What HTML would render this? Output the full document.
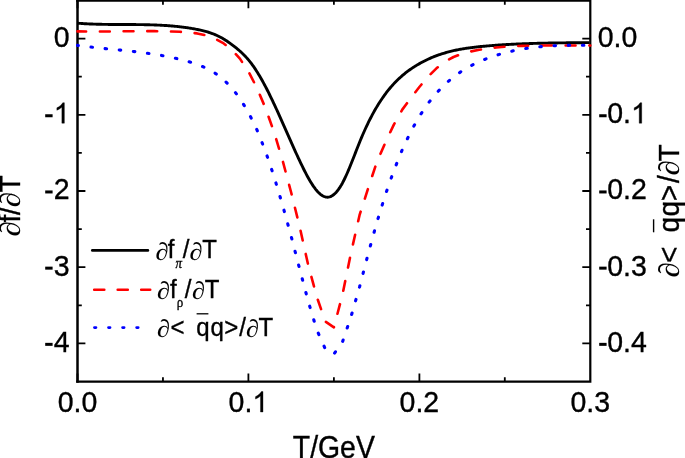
<!DOCTYPE html>
<html><head><meta charset="utf-8"><style>
html,body{margin:0;padding:0;background:#fff;width:685px;height:458px;overflow:hidden}
svg{display:block;filter:blur(0.4px)}
text{font-family:"Liberation Sans",sans-serif;fill:#000;stroke:#000;stroke-width:0.35}
.t28{font-size:28px}
.t24{font-size:24px}
.t285{font-size:28.5px}
.d{font-family:"Liberation Serif",serif;stroke-width:0.05}
.g{font-family:"Liberation Serif",serif;font-style:italic;font-size:13px;stroke-width:0.3}
</style></head><body>
<svg width="685" height="458" viewBox="0 0 685 458">
<rect x="0" y="0" width="685" height="458" fill="#fff"/>


<g stroke="#000" fill="none">
<path stroke-width="2.5" d="M77.5,-1V382.8"/>
<path stroke-width="2.2" d="M590.3,-1V382.8M76.2,381.7H591.4M76.2,0.6H591.4"/>
<path stroke-width="1.8" d="M77.5,381.5V373.6M248.4,381.5V373.6M419.4,381.5V373.6 M162.95,381.5V377.3M333.9,381.5V377.3M504.8,381.5V377.3
M77.5,0.5V8.2M248.4,0.5V8.2M419.4,0.5V8.2 M162.95,0.5V4.7M333.9,0.5V4.7M504.8,0.5V4.7
M77.5,38.6H85.4M77.5,114.8H85.4M77.5,191H85.4M77.5,267.2H85.4M77.5,343.4H85.4
M77.5,76.7H81.8M77.5,152.9H81.8M77.5,229.1H81.8M77.5,305.3H81.8
M590.3,38.6H582.3M590.3,114.8H582.3M590.3,191H582.3M590.3,267.2H582.3M590.3,343.4H582.3
M590.3,76.7H586M590.3,152.9H586M590.3,229.1H586M590.3,305.3H586"/>
</g>
<g fill="none" stroke-linejoin="round">
<path d="M77.50,23.19 L78.50,23.27 L79.50,23.35 L80.50,23.42 L81.50,23.49 L82.50,23.55 L83.50,23.62 L84.50,23.68 L85.50,23.73 L86.50,23.79 L87.50,23.84 L88.50,23.89 L89.50,23.93 L90.50,23.98 L91.50,24.02 L92.50,24.06 L93.50,24.09 L94.50,24.13 L95.50,24.16 L96.50,24.19 L97.50,24.22 L98.50,24.25 L99.50,24.27 L100.50,24.30 L101.50,24.32 L102.50,24.34 L103.50,24.36 L104.50,24.37 L105.50,24.39 L106.50,24.40 L107.50,24.42 L108.50,24.43 L109.50,24.44 L110.50,24.45 L111.50,24.46 L112.50,24.47 L113.50,24.48 L114.50,24.48 L115.50,24.49 L116.50,24.49 L117.50,24.50 L118.50,24.50 L119.50,24.51 L120.50,24.51 L121.50,24.51 L122.50,24.52 L123.50,24.52 L124.50,24.52 L125.50,24.52 L126.50,24.53 L127.50,24.53 L128.50,24.54 L129.50,24.54 L130.50,24.54 L131.50,24.55 L132.50,24.55 L133.50,24.56 L134.50,24.57 L135.50,24.57 L136.50,24.58 L137.50,24.59 L138.50,24.60 L139.50,24.61 L140.50,24.63 L141.50,24.64 L142.50,24.65 L143.50,24.67 L144.50,24.69 L145.50,24.71 L146.50,24.73 L147.50,24.75 L148.50,24.77 L149.50,24.80 L150.50,24.83 L151.50,24.86 L152.50,24.89 L153.50,24.92 L154.50,24.96 L155.50,24.99 L156.50,25.03 L157.50,25.08 L158.50,25.12 L159.50,25.17 L160.50,25.22 L161.50,25.27 L162.50,25.33 L163.50,25.38 L164.50,25.44 L165.50,25.51 L166.50,25.57 L167.50,25.64 L168.50,25.72 L169.50,25.79 L170.50,25.87 L171.50,25.95 L172.50,26.04 L173.50,26.13 L174.50,26.22 L175.50,26.32 L176.50,26.42 L177.50,26.52 L178.50,26.63 L179.50,26.74 L180.50,26.86 L181.50,26.98 L182.50,27.10 L183.50,27.23 L184.50,27.36 L185.50,27.50 L186.50,27.64 L187.50,27.79 L188.50,27.94 L189.50,28.09 L190.50,28.25 L191.50,28.41 L192.50,28.58 L193.50,28.76 L194.50,28.94 L195.50,29.12 L196.50,29.31 L197.50,29.50 L198.50,29.71 L199.50,29.92 L200.50,30.13 L201.50,30.36 L202.50,30.60 L203.50,30.84 L204.50,31.10 L205.50,31.37 L206.50,31.65 L207.50,31.94 L208.50,32.25 L209.50,32.57 L210.50,32.91 L211.50,33.26 L212.50,33.63 L213.50,34.01 L214.50,34.41 L215.50,34.83 L216.50,35.27 L217.50,35.73 L218.50,36.21 L219.50,36.71 L220.50,37.23 L221.50,37.78 L222.50,38.34 L223.50,38.93 L224.50,39.54 L225.50,40.18 L226.50,40.83 L227.50,41.50 L228.50,42.19 L229.50,42.89 L230.50,43.61 L231.50,44.35 L232.50,45.10 L233.50,45.86 L234.50,46.64 L235.50,47.43 L236.50,48.23 L237.50,49.05 L238.50,49.89 L239.50,50.75 L240.50,51.64 L241.50,52.55 L242.50,53.50 L243.50,54.47 L244.50,55.48 L245.50,56.52 L246.50,57.61 L247.50,58.73 L248.50,59.90 L249.50,61.12 L250.50,62.38 L251.50,63.70 L252.50,65.06 L253.50,66.46 L254.50,67.91 L255.50,69.41 L256.50,70.95 L257.50,72.54 L258.50,74.16 L259.50,75.83 L260.50,77.53 L261.50,79.28 L262.50,81.06 L263.50,82.87 L264.50,84.73 L265.50,86.61 L266.50,88.54 L267.50,90.49 L268.50,92.47 L269.50,94.49 L270.50,96.53 L271.50,98.59 L272.50,100.68 L273.50,102.80 L274.50,104.93 L275.50,107.09 L276.50,109.26 L277.50,111.45 L278.50,113.65 L279.50,115.87 L280.50,118.10 L281.50,120.34 L282.50,122.58 L283.50,124.84 L284.50,127.10 L285.50,129.36 L286.50,131.62 L287.50,133.88 L288.50,136.15 L289.50,138.40 L290.50,140.66 L291.50,142.91 L292.50,145.15 L293.50,147.38 L294.50,149.59 L295.50,151.80 L296.50,153.99 L297.50,156.17 L298.50,158.33 L299.50,160.46 L300.50,162.58 L301.50,164.67 L302.50,166.73 L303.50,168.76 L304.50,170.75 L305.50,172.70 L306.50,174.61 L307.50,176.46 L308.50,178.26 L309.50,180.01 L310.50,181.69 L311.50,183.31 L312.50,184.86 L313.50,186.34 L314.50,187.74 L315.50,189.06 L316.50,190.29 L317.50,191.44 L318.50,192.50 L319.50,193.46 L320.50,194.31 L321.50,195.07 L322.50,195.72 L323.50,196.25 L324.50,196.67 L325.50,196.97 L326.50,197.15 L327.50,197.20 L328.50,197.12 L329.50,196.91 L330.50,196.57 L331.50,196.11 L332.50,195.51 L333.50,194.80 L334.50,193.96 L335.50,193.00 L336.50,191.91 L337.50,190.71 L338.50,189.38 L339.50,187.94 L340.50,186.38 L341.50,184.71 L342.50,182.92 L343.50,181.02 L344.50,179.02 L345.50,176.92 L346.50,174.73 L347.50,172.46 L348.50,170.13 L349.50,167.73 L350.50,165.28 L351.50,162.79 L352.50,160.27 L353.50,157.73 L354.50,155.17 L355.50,152.61 L356.50,150.05 L357.50,147.50 L358.50,144.97 L359.50,142.48 L360.50,140.03 L361.50,137.62 L362.50,135.27 L363.50,132.97 L364.50,130.72 L365.50,128.52 L366.50,126.36 L367.50,124.26 L368.50,122.20 L369.50,120.19 L370.50,118.23 L371.50,116.31 L372.50,114.43 L373.50,112.60 L374.50,110.82 L375.50,109.07 L376.50,107.37 L377.50,105.71 L378.50,104.09 L379.50,102.51 L380.50,100.96 L381.50,99.46 L382.50,97.99 L383.50,96.56 L384.50,95.17 L385.50,93.81 L386.50,92.49 L387.50,91.20 L388.50,89.94 L389.50,88.72 L390.50,87.52 L391.50,86.36 L392.50,85.23 L393.50,84.13 L394.50,83.06 L395.50,82.02 L396.50,81.00 L397.50,80.01 L398.50,79.05 L399.50,78.11 L400.50,77.20 L401.50,76.31 L402.50,75.44 L403.50,74.60 L404.50,73.78 L405.50,72.98 L406.50,72.20 L407.50,71.44 L408.50,70.70 L409.50,69.98 L410.50,69.27 L411.50,68.59 L412.50,67.91 L413.50,67.26 L414.50,66.62 L415.50,65.99 L416.50,65.38 L417.50,64.78 L418.50,64.19 L419.50,63.62 L420.50,63.05 L421.50,62.51 L422.50,61.97 L423.50,61.45 L424.50,60.94 L425.50,60.44 L426.50,59.95 L427.50,59.48 L428.50,59.01 L429.50,58.56 L430.50,58.12 L431.50,57.69 L432.50,57.27 L433.50,56.86 L434.50,56.47 L435.50,56.08 L436.50,55.70 L437.50,55.33 L438.50,54.98 L439.50,54.63 L440.50,54.29 L441.50,53.96 L442.50,53.64 L443.50,53.33 L444.50,53.03 L445.50,52.74 L446.50,52.45 L447.50,52.17 L448.50,51.90 L449.50,51.64 L450.50,51.39 L451.50,51.15 L452.50,50.91 L453.50,50.68 L454.50,50.45 L455.50,50.24 L456.50,50.03 L457.50,49.82 L458.50,49.63 L459.50,49.44 L460.50,49.25 L461.50,49.07 L462.50,48.90 L463.50,48.73 L464.50,48.57 L465.50,48.41 L466.50,48.26 L467.50,48.11 L468.50,47.97 L469.50,47.83 L470.50,47.70 L471.50,47.57 L472.50,47.44 L473.50,47.32 L474.50,47.20 L475.50,47.09 L476.50,46.98 L477.50,46.87 L478.50,46.77 L479.50,46.66 L480.50,46.56 L481.50,46.47 L482.50,46.37 L483.50,46.28 L484.50,46.19 L485.50,46.10 L486.50,46.01 L487.50,45.92 L488.50,45.84 L489.50,45.75 L490.50,45.67 L491.50,45.59 L492.50,45.51 L493.50,45.44 L494.50,45.36 L495.50,45.29 L496.50,45.21 L497.50,45.14 L498.50,45.07 L499.50,45.01 L500.50,44.94 L501.50,44.87 L502.50,44.81 L503.50,44.75 L504.50,44.69 L505.50,44.63 L506.50,44.57 L507.50,44.51 L508.50,44.45 L509.50,44.40 L510.50,44.35 L511.50,44.29 L512.50,44.24 L513.50,44.19 L514.50,44.14 L515.50,44.10 L516.50,44.05 L517.50,44.01 L518.50,43.96 L519.50,43.92 L520.50,43.88 L521.50,43.84 L522.50,43.80 L523.50,43.76 L524.50,43.72 L525.50,43.68 L526.50,43.65 L527.50,43.61 L528.50,43.58 L529.50,43.54 L530.50,43.51 L531.50,43.48 L532.50,43.45 L533.50,43.42 L534.50,43.39 L535.50,43.36 L536.50,43.34 L537.50,43.31 L538.50,43.28 L539.50,43.26 L540.50,43.24 L541.50,43.21 L542.50,43.19 L543.50,43.17 L544.50,43.15 L545.50,43.13 L546.50,43.11 L547.50,43.09 L548.50,43.07 L549.50,43.05 L550.50,43.03 L551.50,43.02 L552.50,43.00 L553.50,42.98 L554.50,42.97 L555.50,42.95 L556.50,42.94 L557.50,42.93 L558.50,42.91 L559.50,42.90 L560.50,42.89 L561.50,42.88 L562.50,42.86 L563.50,42.85 L564.50,42.84 L565.50,42.83 L566.50,42.82 L567.50,42.81 L568.50,42.80 L569.50,42.79 L570.50,42.78 L571.50,42.77 L572.50,42.76 L573.50,42.75 L574.50,42.75 L575.50,42.74 L576.50,42.73 L577.50,42.72 L578.50,42.71 L579.50,42.70 L580.50,42.70 L581.50,42.69 L582.50,42.68 L583.50,42.67 L584.50,42.67 L585.50,42.66 L586.50,42.65 L587.50,42.64 L588.50,42.63 L589.50,42.63" stroke="#000" stroke-width="2.9"/>
<path d="M77.50,31.36 L86.05,31.51 L94.59,31.56 L103.14,31.53 L111.69,31.46 L120.23,31.36 L128.78,31.25 L137.33,31.17 L145.87,31.12 L154.42,31.14 L162.97,31.25 L171.51,31.46 L180.06,31.81 L188.61,32.36 L197.15,33.40 L205.70,35.27 L214.25,38.28 L222.79,42.78 L231.34,49.29 L239.89,58.64 L248.43,71.52 L256.98,88.03 L265.53,108.24 L274.07,132.16 L282.62,160.58 L291.17,192.48 L299.71,226.90 L308.26,265.33 L316.81,296.80 L325.35,321.50 L333.90,327.30 L342.45,294.80 L350.99,253.00 L359.54,215.18 L368.09,188.49 L376.63,162.74 L385.18,143.03 L393.73,124.83 L402.27,109.62 L410.82,98.00 L419.37,86.98 L427.91,76.91 L436.46,68.32 L445.01,61.71 L453.55,56.99 L462.10,53.72 L470.65,51.47 L479.19,49.81 L487.74,48.50 L496.29,47.50 L504.83,46.77 L513.38,46.24 L521.93,45.88 L530.47,45.65 L539.02,45.52 L547.57,45.47 L556.11,45.46 L564.66,45.49 L573.21,45.52 L581.75,45.53 L590.30,45.50" stroke="#ff0000" stroke-width="2.6" stroke-linecap="round" stroke-dasharray="9.9 13.7973" stroke-dashoffset="1.3"/>
<path d="M77.50,45.35 L86.05,46.49 L94.59,47.49 L103.14,48.40 L111.69,49.25 L120.23,50.10 L128.78,50.98 L137.33,51.94 L145.87,53.02 L154.42,54.25 L162.97,55.69 L171.51,57.38 L180.06,59.35 L188.61,61.66 L197.15,64.37 L205.70,67.84 L214.25,72.52 L222.79,78.86 L231.34,87.32 L239.89,98.35 L248.43,112.40 L256.98,129.92 L265.53,151.36 L274.07,176.68 L282.62,205.23 L291.17,236.34 L299.71,269.23 L308.26,301.43 L316.81,329.90 L325.35,349.10 L333.90,354.00 L342.45,342.00 L350.99,316.70 L359.54,286.99 L368.09,254.12 L376.63,223.10 L385.18,195.37 L393.73,170.90 L402.27,149.62 L410.82,131.48 L419.37,116.27 L427.91,103.60 L436.46,93.05 L445.01,84.23 L453.55,76.90 L462.10,70.83 L470.65,65.83 L479.19,61.71 L487.74,58.25 L496.29,55.30 L504.83,52.83 L513.38,50.79 L521.93,49.14 L530.47,47.84 L539.02,46.85 L547.57,46.14 L556.11,45.66 L564.66,45.39 L573.21,45.27 L581.75,45.27 L590.30,45.35" stroke="#0000ff" stroke-width="3.1" stroke-linecap="round" stroke-dasharray="1.5 12.7025" stroke-dashoffset="0.617"/>
</g>
<g class="t285" text-anchor="end">
<text x="0" y="0" transform="translate(69.6,47) scale(1,1.04)">0</text>
<rect x="45.2" y="114.25" width="7.4" height="3.0" fill="#000"/><path d="M583,1147Q518,1085 412.5,1023Q307,961 223,930L223,1104Q374,1175 487,1276Q600,1377 647,1472L763,1472L763,0L583,0Z" fill="#000" stroke="#000" stroke-width="25.2" transform="translate(53.75,123.2) scale(0.013916,-0.013916)"/>
<text x="0" y="0" transform="translate(69.6,199.4) scale(1,1.04)">2</text><rect x="45.2" y="190.45" width="7.4" height="3.0" fill="#000"/>
<text x="0" y="0" transform="translate(69.6,275.6) scale(1,1.04)">3</text><rect x="45.2" y="266.65" width="7.4" height="3.0" fill="#000"/>
<text x="0" y="0" transform="translate(69.6,351.8) scale(1,1.04)">4</text><rect x="45.2" y="342.85" width="7.4" height="3.0" fill="#000"/>
</g>
<g class="t285" text-anchor="start">
<text x="0" y="0" transform="translate(597.7,47) scale(1,1.04)">0.0</text>
<text x="0" y="0" transform="translate(607.19,123.2) scale(1,1.04)">0.</text><rect x="599.2" y="114.25" width="7.4" height="3.0" fill="#000"/><path d="M583,1147Q518,1085 412.5,1023Q307,961 223,930L223,1104Q374,1175 487,1276Q600,1377 647,1472L763,1472L763,0L583,0Z" fill="#000" stroke="#000" stroke-width="25.2" transform="translate(631.1,123.2) scale(0.013916,-0.013916)"/>
<text x="0" y="0" transform="translate(607.19,199.4) scale(1,1.04)">0.2</text><rect x="599.2" y="190.45" width="7.4" height="3.0" fill="#000"/>
<text x="0" y="0" transform="translate(607.19,275.6) scale(1,1.04)">0.3</text><rect x="599.2" y="266.65" width="7.4" height="3.0" fill="#000"/>
<text x="0" y="0" transform="translate(607.19,351.8) scale(1,1.04)">0.4</text><rect x="599.2" y="342.85" width="7.4" height="3.0" fill="#000"/>
</g>
<g class="t285" text-anchor="middle">
<text x="0" y="0" transform="translate(77.5,412) scale(1,1.04)">0.0</text>
<text x="0" y="0" text-anchor="start" transform="translate(228.59,412) scale(1,1.04)">0.</text><path d="M583,1147Q518,1085 412.5,1023Q307,961 223,930L223,1104Q374,1175 487,1276Q600,1377 647,1472L763,1472L763,0L583,0Z" fill="#000" stroke="#000" stroke-width="25.2" transform="translate(252.36,412) scale(0.013916,-0.013916)"/>
<text x="0" y="0" transform="translate(419.4,412) scale(1,1.04)">0.2</text>
<text x="0" y="0" transform="translate(590.3,412) scale(1,1.04)">0.3</text>
<text x="0" y="0" font-size="28.4" transform="translate(333.8,457.9) scale(1,1.08)">T/GeV</text>
</g>
<!-- left axis title -->
<g class="t28"><text class="d" transform="translate(20.4,236.49) rotate(-90) scale(1.1,1.04)">∂</text><text transform="translate(20.4,222.46) rotate(-90) scale(1,1.04)">f</text><text transform="translate(20.4,214.89) rotate(-90) scale(1,1.04)">/</text><text class="d" transform="translate(20.4,207.34) rotate(-90) scale(1.1,1.04)">∂</text><text transform="translate(20.4,192.49) rotate(-90) scale(1,1.04)">T</text></g>
<!-- right axis title -->
<g class="t28">
<text class="d" transform="translate(678.5,277.54) rotate(-90) scale(1.1,1.04)">∂</text>
<text transform="translate(678.5,262.98) rotate(-90) scale(1,1.04)">&lt;</text>
<text transform="translate(678.5,232.58) rotate(-90) scale(1,1.04)">q</text>
<text transform="translate(678.5,216.48) rotate(-90) scale(1,1.04)">q</text>
<text transform="translate(678.5,201.28) rotate(-90) scale(1,1.04)">&gt;</text>
<text transform="translate(678.5,182.99) rotate(-90) scale(1,1.04)">/</text>
<text class="d" transform="translate(678.5,175.39) rotate(-90) scale(1.1,1.04)">∂</text>
<text transform="translate(678.5,161.59) rotate(-90) scale(1,1.04)">T</text>
</g>
<line x1="653.6" y1="219.3" x2="653.6" y2="232.3" stroke="#000" stroke-width="1.4"/>
<!-- legend -->
<line x1="92.3" y1="250.4" x2="147.9" y2="250.4" stroke="#000" stroke-width="2.6" stroke-linecap="round"/>
<line x1="94.2" y1="289.8" x2="150.2" y2="289.8" stroke="#ff0000" stroke-width="2.6" stroke-linecap="round" stroke-dasharray="10.1 13.4"/>
<line x1="94.5" y1="327.6" x2="150" y2="327.6" stroke="#0000ff" stroke-width="2.9" stroke-linecap="round" stroke-dasharray="1.4 12.67"/>
<g class="t24">
<text class="d" x="0" y="0" transform="translate(155.42,259.70) scale(1.1,1.04)">∂</text>
<text x="0" y="0" transform="translate(167.8,258.4) scale(1,1.04)">f</text>
<text class="g" x="0" y="0" transform="translate(175.4,267.6) scale(1,1.04)">π</text>
<text x="0" y="0" transform="translate(182.7,258.4) scale(1,1.04)">/</text>
<text class="d" x="0" y="0" transform="translate(189.52,259.70) scale(1.1,1.04)">∂</text>
<text x="0" y="0" transform="translate(202.3,258.4) scale(1,1.04)">T</text>

<text class="d" x="0" y="0" transform="translate(157.02,298.90) scale(1.1,1.04)">∂</text>
<text x="0" y="0" transform="translate(169.9,297.6) scale(1,1.04)">f</text>
<text class="g" style="font-style:normal" x="0" y="0" transform="translate(176.8,307.3) scale(1,1.04)">ρ</text>
<text x="0" y="0" transform="translate(184.8,297.6) scale(1,1.04)">/</text>
<text class="d" x="0" y="0" transform="translate(192.02,298.90) scale(1.1,1.04)">∂</text>
<text x="0" y="0" transform="translate(204.7,297.6) scale(1,1.04)">T</text>

<text class="d" x="0" y="0" transform="translate(157.02,337.10) scale(1.1,1.04)">∂</text>
<text x="0" y="0" transform="translate(170.4,335.8) scale(1,1.04)">&lt;</text>
<text x="0" y="0" transform="translate(196.2,335.8) scale(1,1.04)">q</text>
<text x="0" y="0" transform="translate(210.6,335.8) scale(1,1.04)">q</text>
<text x="0" y="0" transform="translate(224.2,335.8) scale(1,1.04)">&gt;</text>
<text x="0" y="0" transform="translate(239.2,335.8) scale(1,1.04)">/</text>
<text class="d" x="0" y="0" transform="translate(246.02,337.10) scale(1.1,1.04)">∂</text>
<text x="0" y="0" transform="translate(258.6,335.8) scale(1,1.04)">T</text>
</g>
<line x1="196.6" y1="313.8" x2="208.4" y2="313.8" stroke="#000" stroke-width="1.3"/>
</svg>
</body></html>
